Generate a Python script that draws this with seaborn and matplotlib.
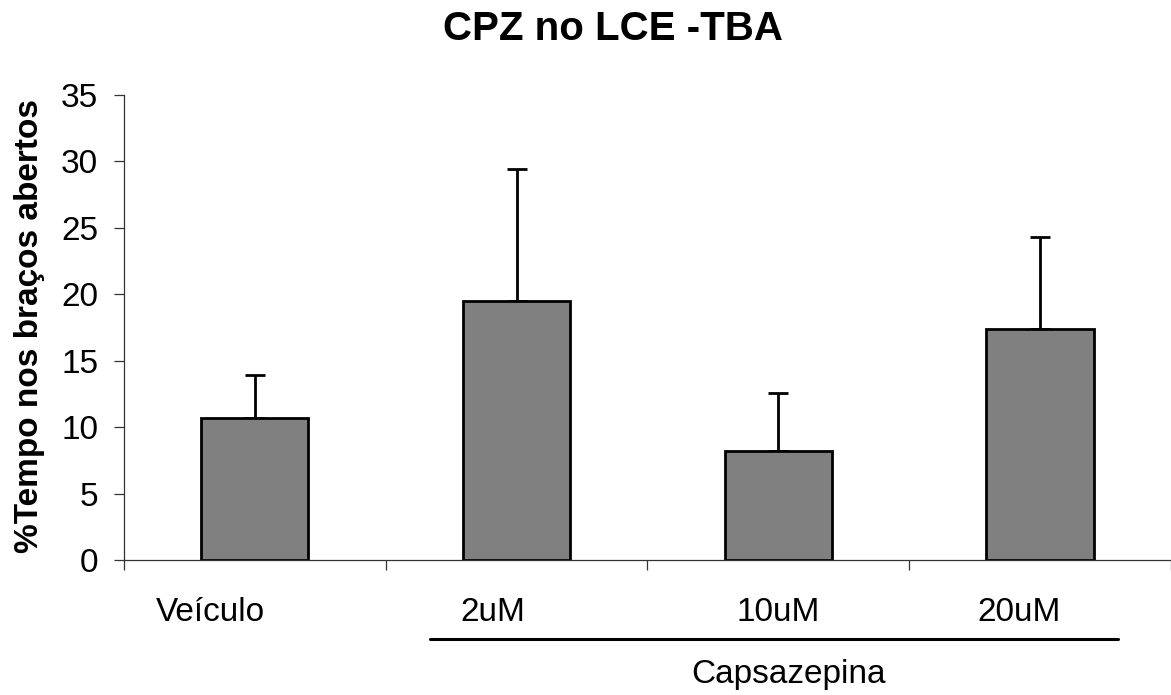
import matplotlib
matplotlib.use("Agg")
import matplotlib.pyplot as plt
import matplotlib.transforms as mtransforms
import numpy as np
import seaborn as sns

# ---- data ----
categories = ["Veículo", "2uM", "10uM", "20uM"]
means = [10.7, 19.5, 8.2, 17.4]
sem = [3.25, 9.95, 4.4, 6.9]
y_ticks = [0, 5, 10, 15, 20, 25, 30, 35]
title = "CPZ no LCE -TBA"
ylabel = "%Tempo nos braços abertos"
group_label = "Capsazepina"

sns.set_theme(style="white")
plt.rcParams["font.family"] = ["Liberation Sans", "DejaVu Sans"]
plt.rcParams["text.color"] = "black"

fig = plt.figure(figsize=(11.71, 6.95), dpi=100)
ax = fig.add_axes([124 / 1171, 1 - 560 / 695, (1170.7 - 124) / 1171, (560 - 95) / 695])

sns.barplot(x=categories, y=means, color="#808080", edgecolor="black",
            linewidth=2.0, width=0.41, saturation=1, ax=ax, zorder=2)
xpos = np.arange(len(categories))
ax.errorbar(xpos, means, yerr=[np.zeros(len(sem)), sem], fmt="none",
            ecolor="black", elinewidth=2.0, capsize=7.2, capthick=2.0, zorder=1)

ax.set_xlim(-0.5, len(categories) - 0.5)
ax.set_ylim(0, 35)
ax.set_yticks(y_ticks)
ax.set_yticklabels([str(v) for v in y_ticks], fontsize=24)
ax.set_xticks(np.arange(len(categories) + 1) - 0.5)
ax.set_xticklabels([])
ax.set_xlabel("")
ax.set_ylabel("")
for s in ["top", "right"]:
    ax.spines[s].set_visible(False)
for s in ["left", "bottom"]:
    ax.spines[s].set_color("#333333")
    ax.spines[s].set_linewidth(0.9)
ax.tick_params(axis="both", direction="out", length=7.5, width=0.9,
               color="#333333", left=True, bottom=True, labelcolor="black", pad=11)

# category labels
trans = mtransforms.blended_transform_factory(ax.transData, fig.transFigure)
offsets = [-0.17, -0.09, 0.0, -0.08]
for i, (lab, off) in enumerate(zip(categories, offsets)):
    ax.text(i + off, 1 - 621 / 695, lab, transform=trans, ha="center",
            va="baseline", fontsize=24, color="black")

# group line + label
ax.plot([0.67, 3.30], [1 - 639 / 695] * 2, transform=trans, color="black",
        lw=2.2, clip_on=False)
ax.text(2.04, 1 - 683 / 695, group_label, transform=trans, ha="center",
        va="baseline", fontsize=24, color="black")

fig.text(613 / 1171, 1 - 40 / 695, title, ha="center", va="baseline",
         fontsize=29, fontweight="bold", color="black")
fig.text(30 / 1171, 1 - 326 / 695, ylabel, ha="center", va="center",
         rotation=90, fontsize=24, fontweight="bold", color="black")

fig.savefig("out.png", dpi=100)
